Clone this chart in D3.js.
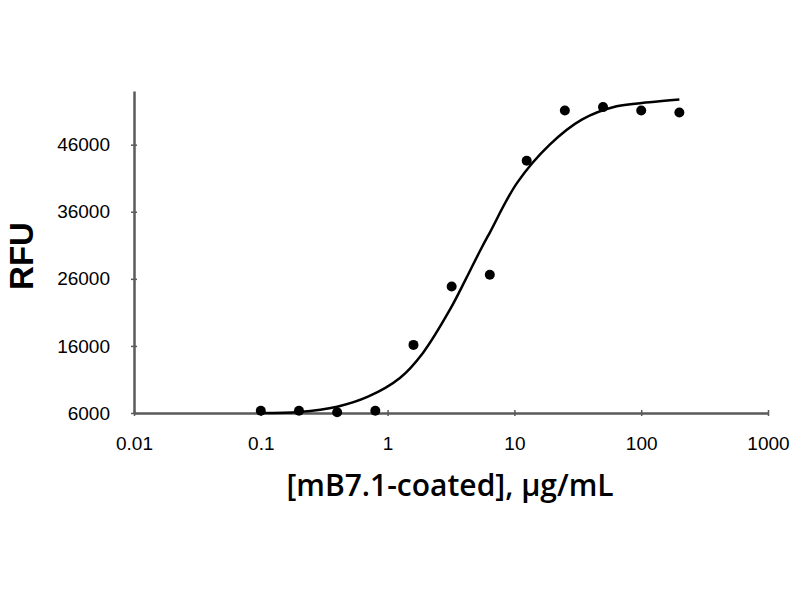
<!DOCTYPE html>
<html>
<head>
<meta charset="utf-8">
<script src="https://cdnjs.cloudflare.com/ajax/libs/d3/7.8.5/d3.min.js"></script>
<style>
    body { margin: 0; background: #fff; }
    text { font-family: "Open Sans", "Liberation Sans", sans-serif; fill: #000; }
</style>
</head>
<body>
<div id="chart"></div>
<script>
// measured points: concentration (µg/mL) and RFU
let concentrations = [0.1, 0.2, 0.4, 0.8, 1.6, 3.2, 6.4, 12.5, 25, 50, 100, 200];
let rfu = [6340, 6340, 6100, 6340, 16150, 24850, 26600, 43600, 51100, 51600, 51100, 50800];

// fitted curve
let fitConc = [0.1, 0.2, 0.4, 0.7, 1.25, 1.9, 3.1, 4.1, 5.4, 6.4, 10.5, 19, 34, 64, 116, 200];
let fitRfu = [6000, 6150, 6940, 8430, 11220, 14960, 21400, 25800, 30300, 32900, 40300, 46000, 49730, 51720, 52310, 52720];

let xTicks = [0.01, 0.1, 1, 10, 100, 1000];
let xTickLabels = ["0.01", "0.1", "1", "10", "100", "1000"];
let yTicks = [6000, 16000, 26000, 36000, 46000];

let width = 800, height = 600;

let svg = d3.select("#chart").append("svg")
    .attr("width", width)
    .attr("height", height);

let x = d3.scaleLog()
    .domain([0.01, 1000])
    .range([134, 768]);

let y = d3.scaleLinear()
    .domain([6000, 54000])
    .range([413, 91]);

let axisColor = "#5a5a5a";

// y axis
let yAxis = svg.append("g")
    .attr("transform", `translate(${x(0.01)},0)`)
    .call(d3.axisLeft(y).tickValues(yTicks).tickFormat(d3.format("d"))
        .tickSize(3).tickPadding(21).tickSizeOuter(0));
yAxis.select(".domain").attr("stroke", axisColor).attr("stroke-width", 2.5);
yAxis.selectAll(".tick line").attr("stroke", axisColor).attr("stroke-width", 1.5).attr("x2", 3).attr("x1", -3);
yAxis.selectAll(".tick text")
    .style("font-size", "19px")
    .style("font-family", "'Liberation Sans', sans-serif");

// x axis
let xAxis = svg.append("g")
    .attr("transform", `translate(0,${y(6000)})`)
    .call(d3.axisBottom(x).tickValues(xTicks).tickFormat((d, i) => xTickLabels[i])
        .tickSize(3).tickPadding(21).tickSizeOuter(0));
xAxis.select(".domain").attr("stroke", axisColor).attr("stroke-width", 2.5);
xAxis.selectAll(".tick line").attr("stroke", axisColor).attr("stroke-width", 1.5).attr("y1", -3).attr("y2", 3);
xAxis.selectAll(".tick text")
    .style("font-size", "19px")
    .style("font-family", "'Liberation Sans', sans-serif");

// fitted curve
let line = d3.line()
    .x(d => x(d[0]))
    .y(d => y(d[1]))
    .curve(d3.curveCatmullRom.alpha(0.5));

svg.append("path")
    .datum(d3.zip(fitConc, fitRfu))
    .attr("fill", "none")
    .attr("stroke", "#000")
    .attr("stroke-width", 2.5)
    .attr("d", line);

// data points
svg.selectAll("circle.point")
    .data(d3.zip(concentrations, rfu))
    .enter()
    .append("circle")
    .attr("class", "point")
    .attr("cx", d => x(d[0]))
    .attr("cy", d => y(d[1]))
    .attr("r", 5)
    .attr("fill", "#000");

// titles
svg.append("text")
    .attr("transform", "translate(33,256) rotate(-90)")
    .attr("text-anchor", "middle")
    .style("font-size", "33px")
    .style("font-weight", "bold")
    .style("font-family", "'Liberation Sans', sans-serif")
    .text("RFU");

svg.append("text")
    .attr("x", 450)
    .attr("y", 496)
    .attr("text-anchor", "middle")
    .style("font-size", "30px")
    .style("font-weight", "600")
    .text("[mB7.1-coated], µg/mL");
</script>
</body>
</html>
